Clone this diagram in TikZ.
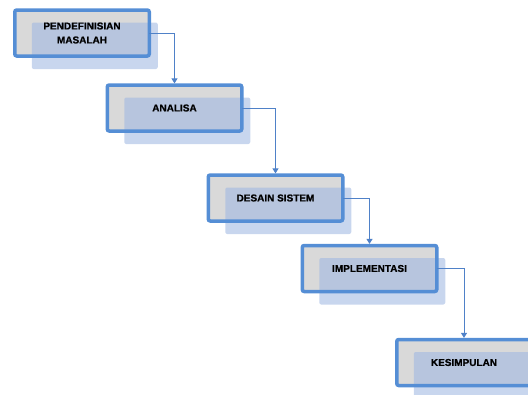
\documentclass[tikz,border=0pt]{standalone}
\usepackage{fontspec}
\setmainfont{Liberation Sans}
\newfontfamily\heavyfont{Liberation Sans}[BoldFeatures={FakeBold=0.8}]
\usetikzlibrary{arrows.meta,backgrounds}
\definecolor{frameblue}{RGB}{85,142,213}
\definecolor{linkblue}{RGB}{79,129,200}
\definecolor{boxgray}{RGB}{217,217,217}
\definecolor{overblue}{RGB}{160,184,226}
\tikzset{
  stagebox/.style={draw=frameblue, line width=3.5pt, rounded corners=2pt,
    minimum width=134.5pt, minimum height=46pt, inner sep=0pt, outer sep=0pt,
    align=center, font=\heavyfont\bfseries\fontsize{10}{14}\selectfont, text=black},
  graybg/.style={fill=boxgray, rounded corners=2pt},
  overlaybox/.style={fill=overblue, fill opacity=0.58, rounded corners=2pt},
  link/.style={draw=linkblue, line width=0.9pt, -{Triangle[length=5pt,width=6pt]}, shorten >=1.6pt}
}
\begin{document}
\begin{tikzpicture}[x=1pt,y=-1pt]
\useasboundingbox (0,0) rectangle (528,394);
\clip (0,0) rectangle (528,394);
\node[stagebox] (b1) at (82,33) {PENDEFINISIAN\\MASALAH};
\node[stagebox] (b2) at (174.5,108) {ANALISA};
\node[stagebox] (b3) at (275.5,198) {DESAIN SISTEM};
\node[stagebox] (b4) at (369.5,268.5) {IMPLEMENTASI};
\node[stagebox] (b5) at (464,362.5) {KESIMPULAN};
\begin{scope}[on background layer]
  \foreach \b in {b1,b2,b3,b4,b5}{
    \fill[graybg] (\b.south west) rectangle (\b.north east);
    \fill[overlaybox] ([shift={(17,12.5)}]\b.north west) rectangle ([shift={(8.5,13)}]\b.south east);
  }
\end{scope}
\draw[link] (b1.east) -| (b2.north);
\draw[link] (b2.east) -| (b3.north);
\draw[link] (b3.east) -| (b4.north);
\draw[link] (b4.east) -| (b5.north);
\end{tikzpicture}
\end{document}
